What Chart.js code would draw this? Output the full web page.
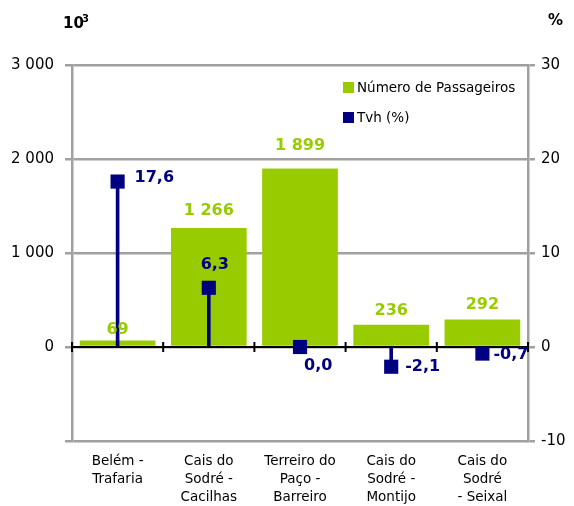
<!DOCTYPE html>
<html>
<head>
<meta charset="utf-8">
<script src="https://cdn.jsdelivr.net/npm/chart.js@4.4.0/dist/chart.umd.min.js"></script>
<style>
    html, body { margin: 0; padding: 0; background: #fff; }
    #wrap { width: 574px; height: 506px; }
</style>
</head>
<body>
<div id="wrap"><canvas id="chart" width="574" height="506"></canvas></div>
<script>
        // Dados do gráfico
        const categories = [
            ['Belém -', 'Trafaria'],
            ['Cais do', 'Sodré -', 'Cacilhas'],
            ['Terreiro do', 'Paço -', 'Barreiro'],
            ['Cais do', 'Sodré -', 'Montijo'],
            ['Cais do', 'Sodré', '- Seixal']
        ];
        const passageiros = [69, 1266, 1899, 236, 292];
        const tvh = [17.6, 6.3, 0.0, -2.1, -0.7];
        const leftTicks = [-1000, 0, 1000, 2000, 3000];
        const rightTicks = [-10, 0, 10, 20, 30];

        // Estilos
        const GREEN = '#99CC00';
        const NAVY = '#000080';
        const GREY = '#A0A0A0';
        const FONT = 'DejaVu Sans';
        // distância do rótulo ao topo da barra
        const barLabelGap = [9, 15, 21, 12, 13];
        // deslocamento dos rótulos Tvh [dx, dy, align]
        const tvhLabelPos = [[17, -4, 'left'], [6, -23, 'center'], [4, 19, 'left'], [14, 0, 'left'], [11, 1, 'left']];

        Chart.defaults.font.family = FONT;
        Chart.defaults.color = '#000';

        function fmtThousands(n) {
            return String(n).replace(/\B(?=(\d{3})+(?!\d))/g, ' ');
        }
        function fmtPct(n) {
            return n.toFixed(1).replace('.', ',');
        }

        // Linha do zero com marcas entre categorias
        const zeroLine = {
            id: 'zeroLine',
            beforeDatasetDraw(chart, args) {
                if (args.index !== 2) return;
                const { ctx, chartArea, scales } = chart;
                const y0 = scales.y.getPixelForValue(0);
                const half = (scales.x.getPixelForValue(1) - scales.x.getPixelForValue(0)) / 2;
                ctx.save();
                ctx.strokeStyle = '#000';
                ctx.lineWidth = 2;
                ctx.beginPath();
                ctx.moveTo(chartArea.left, y0);
                ctx.lineTo(chartArea.right, y0);
                for (let i = 0; i <= categories.length; i++) {
                    const x = scales.x.getPixelForValue(0) - half + i * 2 * half;
                    ctx.moveTo(x, y0 - 5);
                    ctx.lineTo(x, y0 + 5);
                }
                ctx.stroke();
                ctx.restore();
            }
        };

        // Rótulos de dados, legenda e títulos dos eixos
        const extras = {
            id: 'extras',
            afterDatasetsDraw(chart) {
                const ctx = chart.ctx;
                ctx.save();
                ctx.font = 'bold 16px "' + FONT + '"';
                ctx.textBaseline = 'middle';

                const bars = chart.getDatasetMeta(0).data;
                ctx.fillStyle = GREEN;
                ctx.textAlign = 'center';
                bars.forEach((el, i) => {
                    ctx.fillText(fmtThousands(passageiros[i]), el.x, el.y - barLabelGap[i] - 2);
                });

                const pts = chart.getDatasetMeta(2).data;
                ctx.fillStyle = NAVY;
                pts.forEach((el, i) => {
                    const [dx, dy, align] = tvhLabelPos[i];
                    ctx.textAlign = align;
                    ctx.fillText(fmtPct(tvh[i]), el.x + dx, el.y + dy);
                });
                ctx.restore();
            },
            afterDraw(chart) {
                const { ctx, chartArea } = chart;
                ctx.save();
                // legenda
                const lx = chartArea.right - 185;
                const items = [
                    { label: chart.data.datasets[0].label, color: GREEN, y: chartArea.top + 23 },
                    { label: chart.data.datasets[2].label, color: NAVY, y: chartArea.top + 53 }
                ];
                ctx.font = '13.5px "' + FONT + '"';
                ctx.textBaseline = 'middle';
                ctx.textAlign = 'left';
                items.forEach(it => {
                    ctx.fillStyle = it.color;
                    ctx.fillRect(lx, it.y - 6, 11, 11);
                    ctx.fillStyle = '#000';
                    ctx.fillText(it.label, lx + 14, it.y);
                });
                // títulos dos eixos
                ctx.font = 'bold 15px "' + FONT + '"';
                ctx.fillText('10', 63, 24);
                ctx.font = 'bold 10px "' + FONT + '"';
                ctx.fillText('3', 82, 19);
                ctx.font = 'bold 15px "' + FONT + '"';
                ctx.fillText('%', 548, 21);
                ctx.restore();
            }
        };

        const ctx = document.getElementById('chart').getContext('2d');
        new Chart(ctx, {
            type: 'bar',
            data: {
                labels: categories,
                datasets: [
                    {
                        label: 'Número de Passageiros',
                        data: passageiros,
                        backgroundColor: GREEN,
                        yAxisID: 'y',
                        grouped: false,
                        categoryPercentage: 1,
                        barPercentage: 0.83,
                        order: 3
                    },
                    {
                        label: 'Tvh',
                        data: tvh.map(v => [0, v]),
                        backgroundColor: NAVY,
                        yAxisID: 'y1',
                        grouped: false,
                        barThickness: 3,
                        order: 2
                    },
                    {
                        type: 'line',
                        label: 'Tvh (%)',
                        data: tvh,
                        yAxisID: 'y1',
                        showLine: false,
                        pointStyle: 'rect',
                        pointRadius: 10,
                        pointBackgroundColor: NAVY,
                        pointBorderColor: NAVY,
                        pointBorderWidth: 0,
                        order: 1
                    }
                ]
            },
            options: {
                responsive: false,
                animation: false,
                layout: { padding: { top: 65, left: 0, right: 0, bottom: 0 } },
                plugins: {
                    legend: { display: false },
                    tooltip: { enabled: false }
                },
                scales: {
                    x: {
                        offset: true,
                        grid: { display: false, drawTicks: false },
                        border: { display: false },
                        ticks: {
                            padding: 12,
                            maxRotation: 0,
                            autoSkip: false,
                            color: '#000',
                            font: { size: 13.5, lineHeight: 1.33 }
                        },
                        afterFit(s) { s.height = 65; }
                    },
                    y: {
                        position: 'left',
                        min: leftTicks[0],
                        max: leftTicks[leftTicks.length - 1],
                        afterBuildTicks(s) { s.ticks = leftTicks.map(v => ({ value: v })); },
                        ticks: {
                            padding: 11,
                            color: '#000',
                            font: { size: 15 },
                            callback: v => (v < 0 ? '' : fmtThousands(v))
                        },
                        grid: { color: GREY, lineWidth: 2.5, tickLength: 7 },
                        border: { color: GREY, width: 2.5 },
                        afterFit(s) { s.width = 72; }
                    },
                    y1: {
                        position: 'right',
                        min: rightTicks[0],
                        max: rightTicks[rightTicks.length - 1],
                        afterBuildTicks(s) { s.ticks = rightTicks.map(v => ({ value: v })); },
                        ticks: {
                            padding: 6,
                            color: '#000',
                            font: { size: 15 },
                            callback: v => String(v)
                        },
                        grid: { drawOnChartArea: false, color: GREY, lineWidth: 2.5, tickLength: 7 },
                        border: { color: GREY, width: 2.5 },
                        afterFit(s) { s.width = 46; }
                    }
                }
            },
            plugins: [zeroLine, extras]
        });
</script>
</body>
</html>
